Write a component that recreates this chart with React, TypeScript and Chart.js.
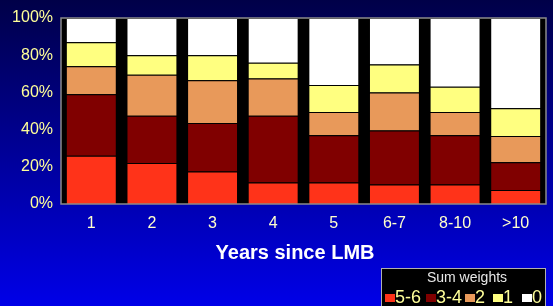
import React, { useEffect, useRef } from "react";
import { Chart, registerables } from "chart.js";

Chart.register(...registerables);

const categories = ["1", "2", "3", "4", "5", "6-7", "8-10", ">10"];
const seriesLabels = ["5-6", "3-4", "2", "1", "0"];
const seriesColors = ["#FF3319", "#800000", "#E8995A", "#FFFF80", "#FFFFFF"];
const s56 = [26, 22, 17.5, 11.5, 11.5, 10.5, 10.5, 7.5];
const s34 = [33, 25.5, 26, 36, 25.5, 29, 26.5, 15];
const s2 = [15, 22, 23, 20, 12.5, 20.5, 12.5, 14];
const s1 = [13, 10.5, 13.5, 8.5, 14.5, 15, 13.5, 15];
const s0 = [13, 20, 20, 24, 36, 25, 37, 48.5];
const yTicks = [0, 20, 40, 60, 80, 100];
const xTitle = "Years since LMB";
const legendTitle = "Sum weights";

const FONT = "'Liberation Sans', Arial, sans-serif";

const decorPlugin = {
  id: "decor",
  beforeDraw(chart: any) {
    const { ctx, width, height, chartArea } = chart;
    ctx.save();
    const g = ctx.createLinearGradient(0, 0, 0, height);
    g.addColorStop(0, "#000048");
    g.addColorStop(1, "#0000E8");
    ctx.fillStyle = g;
    ctx.fillRect(0, 0, width, height);
    ctx.fillStyle = "#000000";
    ctx.fillRect(chartArea.left, chartArea.top, chartArea.right - chartArea.left, chartArea.bottom - chartArea.top);
    ctx.restore();
  },
  afterDraw(chart: any) {
    const { ctx, chartArea } = chart;
    ctx.save();
    ctx.strokeStyle = "#8A8A8A";
    ctx.lineWidth = 1.5;
    ctx.strokeRect(chartArea.left, chartArea.top, chartArea.right - chartArea.left, chartArea.bottom - chartArea.top);
    // axis title
    ctx.fillStyle = "#FFFFFF";
    ctx.font = `bold 20px ${FONT}`;
    ctx.textAlign = "center";
    ctx.textBaseline = "middle";
    ctx.fillText(xTitle, 295, 253);
    // legend box
    const bx = 381, by = 268, bw = 164, bh = 44;
    ctx.fillStyle = "#000000";
    ctx.fillRect(bx, by, bw, bh);
    ctx.strokeStyle = "#B0B0B0";
    ctx.lineWidth = 1;
    ctx.strokeRect(bx + 0.5, by + 0.5, bw, bh);
    ctx.fillStyle = "#E8E8E8";
    ctx.font = `14px ${FONT}`;
    ctx.fillText(legendTitle, 467, 278);
    const sqX = [385, 426, 465, 493, 522];
    ctx.font = `18px ${FONT}`;
    ctx.textAlign = "left";
    chart.data.datasets.forEach((ds: any, i: number) => {
      ctx.fillStyle = ds.backgroundColor;
      ctx.fillRect(sqX[i], 294, 10, 8);
      ctx.fillStyle = "#FFFF99";
      ctx.fillText(ds.label, sqX[i] + 10, 298);
    });
    ctx.restore();
  },
};

export default function App() {
  const ref = useRef<HTMLCanvasElement | null>(null);
  useEffect(() => {
    document.body.style.margin = "0";
    const seriesData = [s56, s34, s2, s1, s0];
    const chart = new Chart(ref.current as HTMLCanvasElement, {
      type: "bar",
      data: {
        labels: categories,
        datasets: seriesLabels.map((label, i) => ({
          label,
          data: seriesData[i],
          backgroundColor: seriesColors[i],
          borderColor: "#000000",
          borderWidth: 1,
          barPercentage: 0.84,
          categoryPercentage: 1,
        })),
      },
      options: {
        animation: false,
        responsive: false,
        devicePixelRatio: 1,
        layout: { padding: { top: 18, right: 7, left: 0, bottom: 0 } },
        plugins: { legend: { display: false }, tooltip: { enabled: false } },
        scales: {
          x: {
            stacked: true,
            grid: { display: false, drawTicks: false },
            border: { display: false },
            ticks: { color: "#FFFFCC", font: { family: FONT, size: 16 }, padding: 10 },
            afterFit: (s: any) => { s.height = 102; },
          },
          y: {
            stacked: true,
            min: 0,
            max: 100,
            grid: { display: false, drawTicks: false },
            border: { display: false },
            afterBuildTicks: (s: any) => { s.ticks = yTicks.map((v) => ({ value: v })); },
            ticks: {
              color: "#FFFF99",
              font: { family: FONT, size: 16 },
              padding: 8,
              callback: (v: any) => `${v}%`,
            },
            afterFit: (s: any) => { s.width = 61; },
          },
        },
      },
      plugins: [decorPlugin],
    });
    return () => chart.destroy();
  }, []);
  return (
    <div style={{ width: 553, height: 306 }}>
      <canvas ref={ref} width={553} height={306} style={{ display: "block" }} />
    </div>
  );
}
